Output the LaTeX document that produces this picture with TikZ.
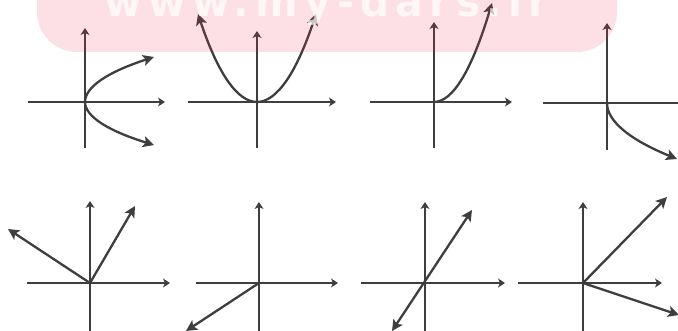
\documentclass[tikz,border=0pt]{standalone}
\usepackage{fontspec}
\newfontfamily\wmfont[LetterSpace=15]{DejaVu Sans}
\usetikzlibrary{arrows.meta}
\definecolor{lc}{RGB}{62,62,62}
\definecolor{wm}{RGB}{242,48,88}
\begin{document}
\begin{tikzpicture}[x=1pt,y=-1pt,
  axis/.style={draw=lc, line width=2.3pt, -{Stealth[length=7pt,width=9pt,inset=2pt]}},
  curve/.style={draw=lc, line width=2.3pt, -{Stealth[length=11pt,width=11pt,inset=2.5pt]}},
  both/.style={draw=lc, line width=2.3pt, {Stealth[length=11pt,width=11pt,inset=2.5pt]}-{Stealth[length=11pt,width=11pt,inset=2.5pt]}},
  wmtext/.style={anchor=base west, inner sep=0pt, text=white, text opacity=.7,
    font=\wmfont\bfseries\fontsize{41}{41}\selectfont}]
\clip (0,0) rectangle (678,331);
\fill[white] (0,0) rectangle (678,331);
% origins
\coordinate (o1) at (85,102);
\coordinate (o2) at (257,102);
\coordinate (o3) at (434,102);
\coordinate (o4) at (607,103);
\coordinate (o5) at (90,283);
\coordinate (o6) at (259,283);
\coordinate (o7) at (425,283);
\coordinate (o8) at (583,283);
% ---- panel 1: sideways parabola
\draw[axis] (28,102) -- (165,102);
\draw[axis] (85,148) -- (85,28);
\coordinate (t1a) at (154,57);
\coordinate (t1b) at (154,145);
\draw[curve] (o1) .. controls (85,87) and (107.7,72) .. (t1a);
\draw[curve] (o1) .. controls (85,116.3) and (107.7,130.7) .. (t1b);
% ---- panel 2: parabola
\draw[axis] (188,102) -- (336,102);
\draw[axis] (257,148) -- (257,31);
\coordinate (t2a) at (316,14);
\coordinate (t2b) at (198,14);
\draw[curve] (o2) .. controls (276.7,102) and (296.3,73) .. (t2a);
\draw[curve] (o2) .. controls (237.3,102) and (217.7,73) .. (t2b);
% ---- panel 3: half parabola
\draw[axis] (370,102) -- (512,102);
\draw[axis] (434,148) -- (434,22);
\coordinate (t3) at (492,3);
\draw[curve] (o3) .. controls (453,102) and (472,69.3) .. (t3);
% ---- panel 4: lower root curve
\draw[axis] (543,103) -- (690,103);
\draw[axis] (607,150) -- (607,23);
\coordinate (t4) at (677,159);
\draw[curve] (o4) .. controls (607,121.3) and (630,139.7) .. (t4);
% ---- panel 5
\draw[axis] (27,283) -- (170,283);
\draw[axis] (90,331) -- (90,201);
\coordinate (t5a) at (8,229);
\coordinate (t5b) at (135,206);
\draw[curve] (o5) -- (t5a);
\draw[curve] (o5) -- (t5b);
% ---- panel 6
\draw[axis] (196,283) -- (338,283);
\draw[axis] (259,331) -- (259,202);
\coordinate (t6) at (186,331);
\draw[curve] (o6) -- (t6);
% ---- panel 7
\draw[axis] (361,283) -- (505,283);
\draw[axis] (425,331) -- (425,202);
\coordinate (t7a) at (392,331);
\coordinate (t7b) at (472,210);
\draw[both] (t7a) -- (t7b);
% ---- panel 8
\draw[axis] (518,283) -- (662,283);
\draw[axis] (583,331) -- (583,202);
\coordinate (t8a) at (667,197);
\coordinate (t8b) at (679,315);
\draw[curve] (o8) -- (t8a);
\draw[curve] (o8) -- (t8b);
% ---- watermark
\begin{scope}[transparency group=knockout]
  \fill[wm, opacity=.15, rounded corners=40pt] (37,-60) rectangle (617,52);
  \node[wmtext] (wm) at (104,17) {www.my-dars.ir};
\end{scope}
\end{tikzpicture}
\end{document}
